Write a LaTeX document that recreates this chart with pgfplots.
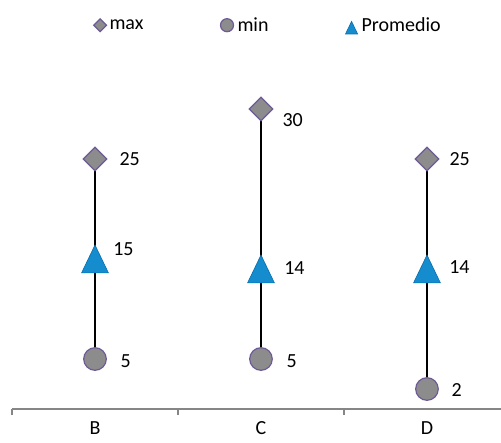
\documentclass[border=0pt]{standalone}
\usepackage{fontspec}
\setmainfont{Carlito}
\usepackage{pgfplots}
\usepackage{pgfplotstable}
\pgfplotsset{compat=1.18}

\definecolor{mkgray}{RGB}{140,140,140}
\definecolor{mkpurple}{RGB}{110,90,150}
\definecolor{triblue}{RGB}{20,140,205}
\definecolor{tridark}{RGB}{10,110,175}
\definecolor{axgray}{RGB}{134,134,134}

% x y dx dy   (dx, dy: label offsets in bp)
\pgfplotstableread[row sep=\\]{
x y dx dy\\
0 25 24 0\\
1 30 21 -11\\
2 25 22 0\\
}\maxdata
\pgfplotstableread[row sep=\\]{
x y dx dy\\
0 5 25 -2\\
1 5 25 -2\\
2 2 24 -1\\
}\mindata
\pgfplotstableread[row sep=\\]{
x y dx dy\\
0 15 18 14\\
1 14 23 6\\
2 14 22 7\\
}\promdata

\pgfplotsset{labelled/.style={
    nodes near coords,
    visualization depends on={\thisrow{dx}\as\labx},
    visualization depends on={\thisrow{dy}\as\laby},
    nodes near coords style={anchor=west, inner sep=0pt, black,
        xshift=\labx bp, yshift=\laby bp},
}}

\begin{document}
\begin{tikzpicture}[font=\fontsize{20bp}{24bp}\selectfont]
\path[use as bounding box] (-12bp,-34bp) rectangle (489bp,409bp);
\begin{axis}[
    at={(0,0)}, anchor=south west,
    scale only axis,
    width=489bp, height=350bp,
    xmin=-0.5, xmax=2.446,
    ymin=0, ymax=35,
    clip=false,
    axis y line=none,
    axis x line*=bottom,
    x axis line style={-, axgray, line width=1.2bp},
    xtick={-0.5,0.5,1.5},
    xticklabels={},
    tick align=outside,
    major tick length=6bp,
    xtick style={axgray, line width=1.2bp},
    extra x ticks={0,1,2},
    extra x tick labels={B,C,D},
    extra x tick style={major tick length=0pt, xticklabel style={yshift=-9bp}},
    /pgf/number format/assume math mode=true,
    legend columns=3,
    legend style={at={(0.522,1.095)}, anchor=center, draw=none, fill=none,
        /tikz/every even column/.style={column sep=0bp},
        nodes={inner sep=0pt}},
    legend image code/.code={\draw[#1] plot coordinates {(0bp,0bp)};},
]
% high-low lines
\addplot[black, line width=1.1bp, forget plot] coordinates {(0,5) (0,25)};
\addplot[black, line width=1.1bp, forget plot] coordinates {(1,5) (1,30)};
\addplot[black, line width=1.1bp, forget plot] coordinates {(2,2) (2,25)};

\addplot[labelled, only marks, mark=square*, mark size=8.3bp,
    mark options={rotate=45, fill=mkgray, draw=mkpurple, line width=1.2bp},
    legend image post style={mark size=4.5bp}]
    table[x=x, y=y] {\maxdata};
\addlegendentry{\makebox[114bp][l]{\hspace{3bp}max}}
\addplot[labelled, only marks, mark=*, mark size=11.3bp,
    mark options={fill=mkgray, draw=mkpurple, line width=1.2bp},
    legend image post style={mark size=6.5bp}]
    table[x=x, y=y] {\mindata};
\addlegendentry{\makebox[112bp][l]{\hspace{4bp}min}}
\addplot[labelled, only marks, mark=triangle*, mark size=15.5bp,
    mark options={fill=triblue, draw=tridark, line width=0.6bp,
        yshift=-4.6bp, yscale=1.2},
    legend image post style={mark size=7bp}]
    table[x=x, y=y] {\promdata};
\addlegendentry{\hspace{4bp}Promedio}
\end{axis}
\end{tikzpicture}
\end{document}
